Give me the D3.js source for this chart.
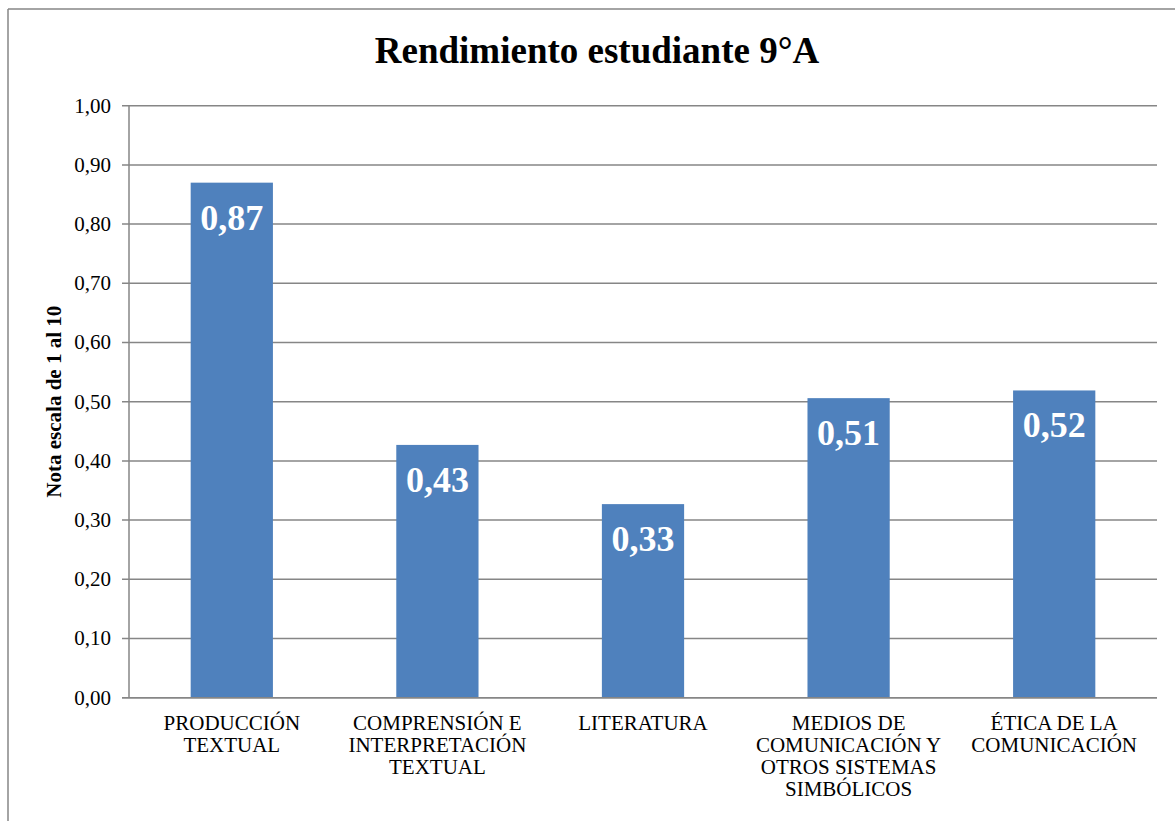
<!DOCTYPE html>
<html>
<head>
<meta charset="utf-8">
<script src="https://cdn.jsdelivr.net/npm/d3@7"></script>
<style>
  html, body { margin: 0; padding: 0; background: #fff; }
  svg { display: block; }
  svg text { font-family: "Liberation Serif"; }
</style>
</head>
<body>
<svg id="chart" width="1175" height="821"></svg>
<script>
const titleText = "Rendimiento estudiante 9°A";
const yAxisTitle = "Nota escala de 1 al 10";
const categories = [
  ["PRODUCCIÓN", "TEXTUAL"],
  ["COMPRENSIÓN E", "INTERPRETACIÓN", "TEXTUAL"],
  ["LITERATURA"],
  ["MEDIOS DE", "COMUNICACIÓN Y", "OTROS SISTEMAS", "SIMBÓLICOS"],
  ["ÉTICA DE LA", "COMUNICACIÓN"]
];
const values = [0.87, 0.427, 0.327, 0.506, 0.519];
const yTicks = [0, 0.1, 0.2, 0.3, 0.4, 0.5, 0.6, 0.7, 0.8, 0.9, 1.0];

(function () {
const svg = d3.select("#chart");
const W = 1175, H = 821;
const pLeft = 129, pRight = 1157, pTop = 105.7, pBottom = 697.7;
const gridColor = "#868686";
const barColor = "#4F81BD";

const fmt = v => d3.format(".2f")(v).replace(".", ",");

// outer frame (left and top visible)
svg.append("line").attr("x1", 8).attr("y1", 9).attr("x2", W).attr("y2", 9)
  .attr("stroke", gridColor).attr("stroke-width", 1.5);
svg.append("line").attr("x1", 8).attr("y1", 9).attr("x2", 8).attr("y2", H)
  .attr("stroke", gridColor).attr("stroke-width", 1.5);

const idx = categories.map((d, i) => i);
const x = d3.scaleBand().domain(idx).range([pLeft, pRight]).paddingInner(0.6).paddingOuter(0.3);
const xBand = d3.scaleBand().domain(idx).range([pLeft, pRight]);
const y = d3.scaleLinear().domain([0, 1]).range([pBottom, pTop]);

// gridlines
svg.append("g").selectAll("line").data(yTicks).join("line")
  .attr("x1", pLeft - 7).attr("x2", pRight)
  .attr("y1", d => y(d)).attr("y2", d => y(d))
  .attr("stroke", gridColor).attr("stroke-width", 1.5);

// y axis line
svg.append("line").attr("x1", pLeft).attr("x2", pLeft).attr("y1", pTop).attr("y2", pBottom)
  .attr("stroke", gridColor).attr("stroke-width", 1.5);

// y tick labels
svg.append("g").selectAll("text").data(yTicks).join("text")
  .attr("x", 111).attr("y", d => y(d))
  .attr("dy", "0.33em")
  .attr("text-anchor", "end")
  .style("font-size", "21px").attr("fill", "#000")
  .text(d => fmt(d));

// bars
svg.append("g").selectAll("rect").data(values).join("rect")
  .attr("x", (d, i) => x(i)).attr("width", x.bandwidth())
  .attr("y", d => y(d)).attr("height", d => pBottom - y(d))
  .attr("fill", barColor);

// baseline on top
svg.append("line").attr("x1", pLeft - 7).attr("x2", pRight).attr("y1", pBottom).attr("y2", pBottom)
  .attr("stroke", gridColor).attr("stroke-width", 1.5);

// data labels
svg.append("g").selectAll("text").data(values).join("text")
  .attr("x", (d, i) => x(i) + x.bandwidth() / 2)
  .attr("y", d => y(d) + 47)
  .attr("text-anchor", "middle")
  .style("font-weight", "bold").style("font-size", "36px")
  .attr("fill", "#fff")
  .text(d => fmt(d));

// x labels
const xl = svg.append("g");
categories.forEach((lines, i) => {
  const cx = xBand(i) + xBand.bandwidth() / 2;
  const t = xl.append("text")
    .attr("text-anchor", "middle")
    .style("font-size", "21px").attr("fill", "#000");
  lines.forEach((ln, j) => {
    t.append("tspan").attr("x", cx).attr("y", 730 + j * 22).text(ln);
  });
});

// title
svg.append("text").attr("x", 597).attr("y", 63)
  .attr("text-anchor", "middle")
  .style("font-weight", "bold").style("font-size", "37px")
  .attr("fill", "#000").text(titleText);

// y axis title
svg.append("text")
  .attr("transform", `translate(61, ${(pTop + pBottom) / 2}) rotate(-90)`)
  .attr("text-anchor", "middle")
  .style("font-weight", "bold").style("font-size", "21px")
  .attr("fill", "#000").text(yAxisTitle);
})();
</script>
</body>
</html>
